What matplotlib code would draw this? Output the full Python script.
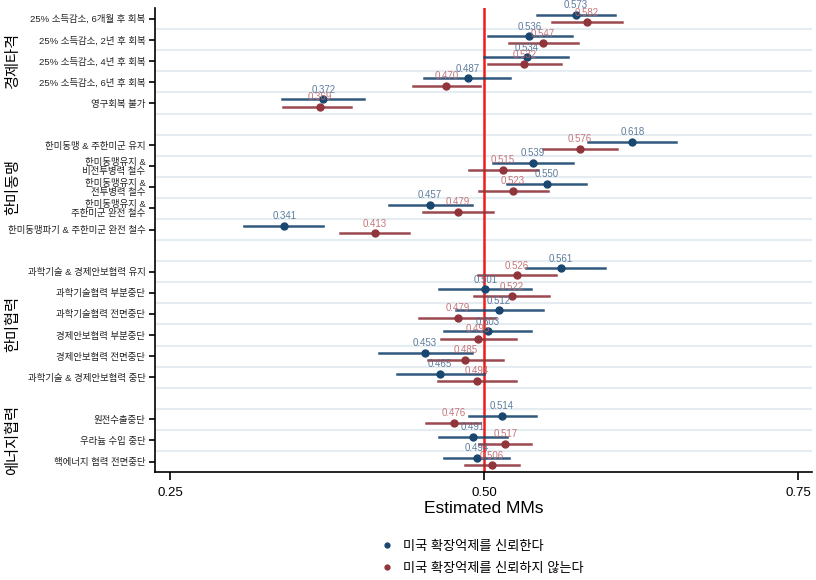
import matplotlib
matplotlib.use("Agg")
import matplotlib.pyplot as plt
from matplotlib.transforms import blended_transform_factory

plt.rcParams['font.family'] = ['Liberation Sans', 'Noto Sans CJK KR', 'DejaVu Sans']

# row labels, top to bottom ("" = gap row between groups)
labels = [
    "25% 소득감소, 6개월 후 회복", "25% 소득감소, 2년 후 회복", "25% 소득감소, 4년 후 회복",
    "25% 소득감소, 6년 후 회복", "영구회복 불가", "",
    "한미동맹 & 주한미군 유지", "한미동맹유지 &\n비전투병력 철수", "한미동맹유지 &\n전투병력 철수",
    "한미동맹유지 &\n주한미군 완전 철수", "한미동맹파기 & 주한미군 완전 철수", "",
    "과학기술 & 경제안보협력 유지", "과학기술협력 부분중단", "과학기술협력 전면중단",
    "경제안보협력 부분중단", "경제안보협력 전면중단", "과학기술 & 경제안보협력 중단", "",
    "원전수출중단", "우라늄 수입 중단", "핵에너지 협력 전면중단",
]

groups = ["경제타격", "한미동맹", "한미협력", "에너지협력"]
group_rows = [(0, 4), (6, 10), (12, 17), (19, 21)]

# trust group (blue): estimate, lower, upper  (None for gap rows)
trust_est = [0.573, 0.536, 0.534, 0.487, 0.372, None,
             0.618, 0.539, 0.550, 0.457, 0.341, None,
             0.561, 0.501, 0.512, 0.503, 0.453, 0.465, None,
             0.514, 0.491, 0.494]
trust_lo = [0.542, 0.503, 0.500, 0.452, 0.339, None,
            0.583, 0.507, 0.518, 0.424, 0.309, None,
            0.533, 0.464, 0.478, 0.468, 0.416, 0.431, None,
            0.488, 0.464, 0.468]
trust_hi = [0.604, 0.570, 0.567, 0.521, 0.404, None,
            0.653, 0.571, 0.581, 0.490, 0.372, None,
            0.596, 0.537, 0.547, 0.537, 0.490, 0.500, None,
            0.541, 0.518, 0.520]

# distrust group (red)
distrust_est = [0.582, 0.547, 0.532, 0.470, 0.369, None,
                0.576, 0.515, 0.523, 0.479, 0.413, None,
                0.526, 0.522, 0.479, 0.495, 0.485, 0.494, None,
                0.476, 0.517, 0.506]
distrust_lo = [0.554, 0.520, 0.503, 0.443, 0.340, None,
               0.547, 0.488, 0.496, 0.451, 0.385, None,
               0.495, 0.492, 0.448, 0.466, 0.455, 0.463, None,
               0.454, 0.496, 0.485]
distrust_hi = [0.610, 0.575, 0.561, 0.497, 0.394, None,
               0.606, 0.543, 0.551, 0.507, 0.440, None,
               0.557, 0.552, 0.509, 0.525, 0.515, 0.525, None,
               0.497, 0.537, 0.528]

legend_labels = ["미국 확장억제를 신뢰한다", "미국 확장억제를 신뢰하지 않는다"]
blue = "#1a476f"
red = "#90353b"

fig = plt.figure(figsize=(8.16, 5.8), dpi=100)
ax = fig.add_axes([0.19, 0.186, 0.805, 0.80])

n = len(labels)
for k in range(n - 1):
    ax.axhline(k + 0.5, color="#e6edf2", lw=1.6, zorder=0)

ax.axvline(0.5, color="#ee1c1c", lw=1.8, zorder=1)

series = [
    (trust_est, trust_lo, trust_hi, -0.17, blue, "#4d6f92", legend_labels[0]),
    (distrust_est, distrust_lo, distrust_hi, 0.17, red, "#c0686d", legend_labels[1]),
]
for est, lo, hi, off, col, tcol, lab in series:
    first = True
    for i, (e, l, h) in enumerate(zip(est, lo, hi)):
        if e is None:
            continue
        y = i + off
        ax.plot([l, h], [y, y], color=col, lw=1.8, alpha=0.9, zorder=2)
        ax.plot(e, y, "o", color=col, ms=5, zorder=3,
                label=lab if first else None)
        first = False
        ax.text(e, y - 0.22, f"{e:.3f}", color=tcol, fontsize=7,
                ha="center", va="bottom", zorder=4, alpha=0.9)

ticks = [i for i, t in enumerate(labels) if t]
ax.set_yticks(ticks)
ax.set_yticklabels([labels[i] for i in ticks], fontsize=6.8, color="#222222",
                   linespacing=1.0)
ax.set_ylim(n - 0.5, -0.5)
ax.set_xlim(0.238, 0.761)
ax.set_xticks([0.25, 0.5, 0.75])
ax.set_xticklabels(["0.25", "0.50", "0.75"], fontsize=9.5)
ax.set_xlabel("Estimated MMs", fontsize=12.5, labelpad=1)

ax.spines["top"].set_visible(False)
ax.spines["right"].set_visible(False)
ax.spines["left"].set_linewidth(1.2)
ax.spines["bottom"].set_linewidth(1.2)
ax.tick_params(axis="y", length=4, width=1.2, pad=3)
ax.tick_params(axis="x", length=6, width=1.2, pad=5)

tr = blended_transform_factory(fig.transFigure, ax.transData)
for g, (a, b) in zip(groups, group_rows):
    ax.text(0.016, (a + b) / 2, g, transform=tr, rotation=90, fontsize=11,
            ha="center", va="center")

fig.legend(loc="upper center", bbox_to_anchor=(0.592, 0.088), frameon=False,
           fontsize=9.5, handlelength=0.8, handletextpad=0.8,
           markerscale=0.7, labelspacing=0.7)

fig.savefig("out.png", dpi=100)
